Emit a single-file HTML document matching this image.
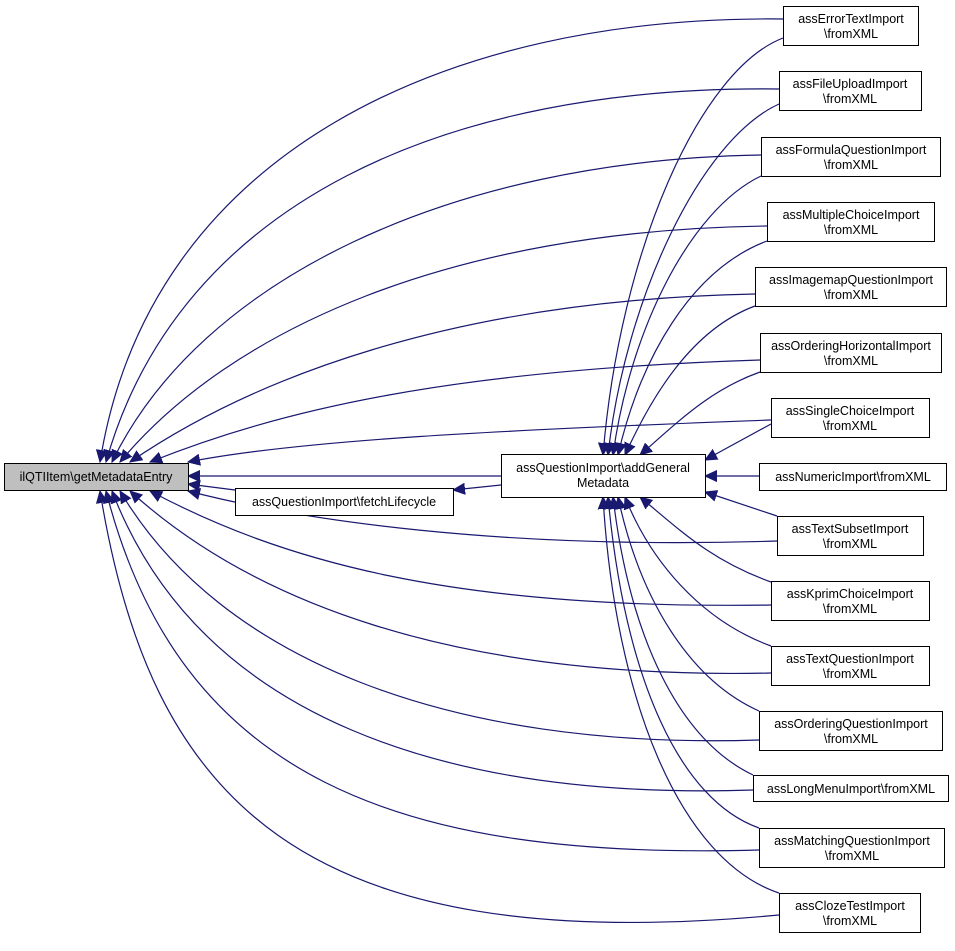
<!DOCTYPE html>
<html><head><meta charset="utf-8"><style>
html,body{margin:0;padding:0;background:#fff;}
svg{display:block;}
text{font-family:"Liberation Sans",sans-serif;font-size:12.5px;fill:#000;}
.b{fill:#fff;stroke:#000;stroke-width:1;}
.e{fill:none;stroke:#191970;stroke-width:1.2;}
</style></head><body>
<svg width="955" height="951" viewBox="0 0 955 951" xmlns="http://www.w3.org/2000/svg">
<defs><marker id="a" markerWidth="14" markerHeight="12" refX="12" refY="6" orient="auto" markerUnits="userSpaceOnUse"><path d="M0,0.5 L12,6 L0,11.5 Z" fill="#191970" stroke="#191970"/></marker></defs>
<g class="e" marker-end="url(#a)">
<path d="M783,19 C450,15 150,150 100,462"/>
<path d="M779,89 C450,85 180,200 106,462"/>
<path d="M761,155 C450,160 200,280 112,462"/>
<path d="M767,226 C450,230 230,330 120,462"/>
<path d="M755,294 C450,300 250,380 130,462"/>
<path d="M760,360 C450,370 280,410 150,462"/>
<path d="M771,420 C500,430 300,440 188,462"/>
<path d="M777,541 C500,550 300,520 188,491"/>
<path d="M771,605 C450,610 280,560 150,491"/>
<path d="M771,673 C450,680 250,600 130,491"/>
<path d="M759,740 C450,750 220,660 120,491"/>
<path d="M753,790 C450,800 200,720 112,491"/>
<path d="M759,850 C400,860 180,780 106,491"/>
<path d="M779,915 C300,960 150,800 100,491"/>
<path d="M783,38 C700,70 620,250 603,455"/>
<path d="M779,104 C700,140 625,300 608,455"/>
<path d="M761,176 C690,210 630,330 613,455"/>
<path d="M767,241 C690,270 640,360 618,455"/>
<path d="M755,306 C690,330 650,400 625,455"/>
<path d="M760,372 C710,390 680,420 640,455"/>
<path d="M771,424 L705,460"/>
<path d="M759,476 L705,476"/>
<path d="M777,516 L705,492"/>
<path d="M771,582 C710,560 680,530 640,497"/>
<path d="M771,646 C700,620 650,560 625,497"/>
<path d="M759,711 C690,680 640,600 618,497"/>
<path d="M753,775 C680,740 630,640 613,497"/>
<path d="M759,828 C680,800 625,680 608,497"/>
<path d="M779,893 C680,860 615,700 603,497"/>
<path d="M501,476 L188,476"/>
<path d="M501,485 L453,490"/>
<path d="M235,490 L188,484"/>
</g>
<rect x="4.5" y="463.5" width="184" height="27" fill="#bfbfbf" stroke="#000"/>
<text x="96" y="481" text-anchor="middle">ilQTIItem\getMetadataEntry</text>
<rect class="b" x="235.5" y="488.5" width="218" height="27"/>
<text x="344" y="506" text-anchor="middle">assQuestionImport\fetchLifecycle</text>
<rect class="b" x="501.5" y="454.5" width="204" height="43"/>
<text x="603" y="472" text-anchor="middle">assQuestionImport\addGeneral</text>
<text x="603" y="487" text-anchor="middle">Metadata</text>
<g>
<rect class="b" x="783.5" y="6.5" width="135" height="39"/><text x="851" y="23" text-anchor="middle">assErrorTextImport</text><text x="851" y="38" text-anchor="middle">\fromXML</text>
<rect class="b" x="779.5" y="71.5" width="142" height="39"/><text x="850" y="88" text-anchor="middle">assFileUploadImport</text><text x="850" y="103" text-anchor="middle">\fromXML</text>
<rect class="b" x="761.5" y="137.5" width="179" height="39"/><text x="851" y="154" text-anchor="middle">assFormulaQuestionImport</text><text x="851" y="169" text-anchor="middle">\fromXML</text>
<rect class="b" x="767.5" y="202.5" width="167" height="39"/><text x="851" y="219" text-anchor="middle">assMultipleChoiceImport</text><text x="851" y="234" text-anchor="middle">\fromXML</text>
<rect class="b" x="755.5" y="267.5" width="191" height="39"/><text x="851" y="284" text-anchor="middle">assImagemapQuestionImport</text><text x="851" y="299" text-anchor="middle">\fromXML</text>
<rect class="b" x="760.5" y="333.5" width="181" height="39"/><text x="851" y="350" text-anchor="middle">assOrderingHorizontalImport</text><text x="851" y="365" text-anchor="middle">\fromXML</text>
<rect class="b" x="771.5" y="398.5" width="158" height="39"/><text x="850" y="415" text-anchor="middle">assSingleChoiceImport</text><text x="850" y="430" text-anchor="middle">\fromXML</text>
<rect class="b" x="759.5" y="463.5" width="187" height="27"/><text x="853" y="481" text-anchor="middle">assNumericImport\fromXML</text>
<rect class="b" x="777.5" y="516.5" width="146" height="39"/><text x="850" y="533" text-anchor="middle">assTextSubsetImport</text><text x="850" y="548" text-anchor="middle">\fromXML</text>
<rect class="b" x="771.5" y="581.5" width="158" height="39"/><text x="850" y="598" text-anchor="middle">assKprimChoiceImport</text><text x="850" y="613" text-anchor="middle">\fromXML</text>
<rect class="b" x="771.5" y="646.5" width="158" height="39"/><text x="850" y="663" text-anchor="middle">assTextQuestionImport</text><text x="850" y="678" text-anchor="middle">\fromXML</text>
<rect class="b" x="759.5" y="711.5" width="183" height="39"/><text x="851" y="728" text-anchor="middle">assOrderingQuestionImport</text><text x="851" y="743" text-anchor="middle">\fromXML</text>
<rect class="b" x="753.5" y="775.5" width="195" height="26"/><text x="851" y="793" text-anchor="middle">assLongMenuImport\fromXML</text>
<rect class="b" x="759.5" y="828.5" width="185" height="39"/><text x="852" y="845" text-anchor="middle">assMatchingQuestionImport</text><text x="852" y="860" text-anchor="middle">\fromXML</text>
<rect class="b" x="779.5" y="893.5" width="141" height="39"/><text x="850" y="910" text-anchor="middle">assClozeTestImport</text><text x="850" y="925" text-anchor="middle">\fromXML</text>
</g>
</svg>
</body></html>
